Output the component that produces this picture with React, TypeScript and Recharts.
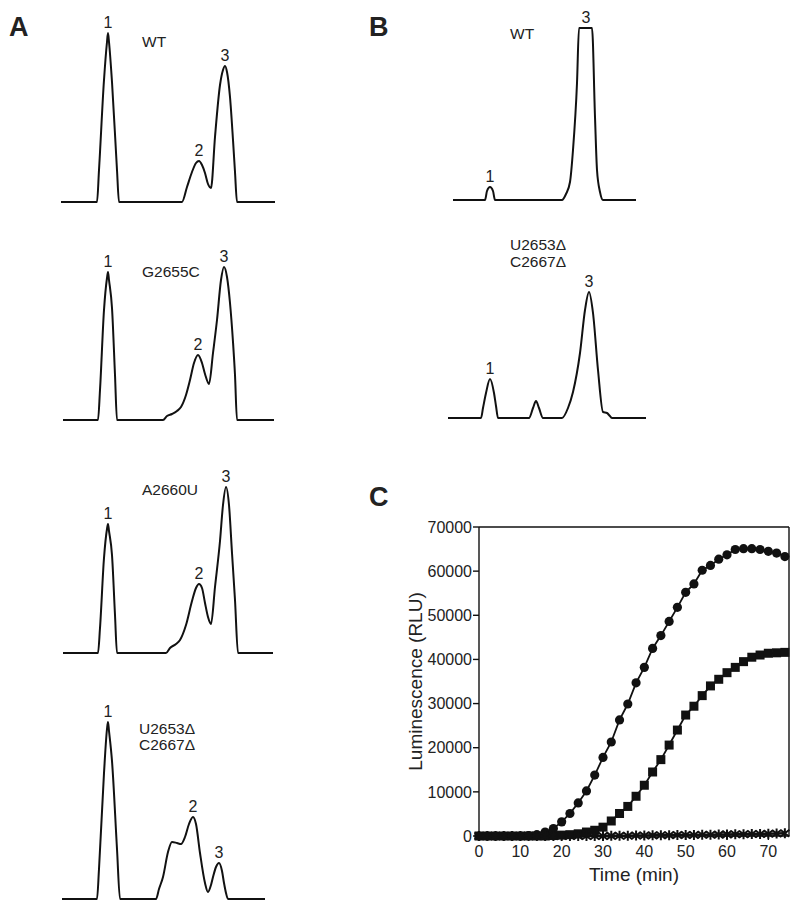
import { LineChart, Line, XAxis, YAxis, LabelList, ReferenceLine } from "recharts";

const FONT = '"Liberation Sans", Arial, sans-serif';
const INK = "#111";

// ---- Panel A traces (elution volume in mL, absorbance in mAU) ----
const aWtVol = [0.1, 3.7, 3.9, 4.4, 4.7, 4.8, 4.9, 5.2, 5.7, 5.9, 12.2, 12.7, 13.2, 13.6, 13.9, 14.2, 14.5, 14.8, 15.1, 15.5, 16.0, 16.3, 16.5, 16.7, 17.0, 17.3, 17.5, 17.7, 21.5];
const aWtAbs = [0, 0, 32, 122, 160, 169, 160, 120, 32, 0, 0, 15, 30, 39, 41, 37, 29, 18, 14, 65, 117, 132, 136, 130, 105, 62, 30, 0, 0];
const aWtPeaks: [number, string][] = [[4.8, "1"], [13.9, "2"], [16.5, "3"]];

const aG2655cVol = [0.3, 3.8, 4.0, 4.4, 4.7, 4.8, 4.9, 5.2, 5.5, 5.7, 10.3, 10.7, 11.2, 11.7, 12.1, 12.6, 13.0, 13.4, 13.8, 14.2, 14.5, 14.9, 15.3, 15.7, 16.1, 16.4, 16.7, 17.0, 17.3, 17.5, 17.7, 21.4];
const aG2655cAbs = [0, 0, 30, 110, 142, 148, 140, 112, 45, 0, 0, 4, 6, 9, 13, 25, 40, 57, 65, 57, 46, 36, 67, 100, 140, 153, 143, 117, 78, 45, 0, 0];
const aG2655cPeaks: [number, string][] = [[4.8, "1"], [13.8, "2"], [16.4, "3"]];

const aA2660uVol = [0.3, 3.8, 4.0, 4.4, 4.7, 4.8, 4.9, 5.2, 5.5, 5.7, 10.6, 11.0, 11.6, 12.0, 12.6, 13.2, 13.6, 13.9, 14.2, 14.5, 14.8, 15.1, 15.5, 16.0, 16.3, 16.6, 16.9, 17.2, 17.5, 17.8, 21.3];
const aA2660uAbs = [0, 0, 25, 95, 124, 129, 122, 98, 38, 0, 0, 5, 9, 13, 28, 52, 65, 69, 65, 50, 36, 29, 66, 112, 148, 166, 148, 100, 53, 0, 0];
const aA2660uPeaks: [number, string][] = [[4.8, "1"], [13.9, "2"], [16.6, "3"]];

const aDelVol = [0.2, 3.7, 3.9, 4.4, 4.7, 4.8, 4.9, 5.2, 5.7, 6.0, 9.6, 9.9, 10.3, 10.8, 11.2, 11.7, 12.1, 12.5, 12.9, 13.3, 13.6, 14.0, 14.5, 14.8, 15.1, 15.3, 15.6, 15.9, 16.2, 16.4, 16.6, 16.8, 20.5];
const aDelAbs = [0, 0, 30, 126, 170, 177, 168, 138, 50, 0, 0, 10, 22, 47, 57, 56, 55, 62, 75, 82, 75, 46, 16, 7, 14, 22, 32, 36, 28, 16, 6, 0, 0];
const aDelPeaks: [number, string][] = [[4.8, "1"], [13.3, "2"], [15.9, "3"]];

// ---- Panel B traces ----
const bWtVol = [0.7, 3.9, 4.1, 4.4, 4.7, 4.9, 11.6, 12.0, 12.4, 12.7, 13.1, 13.3, 14.0, 14.6, 14.9, 15.1, 15.4, 15.7, 19.0];
const bWtAbs = [0, 0, 9, 13, 9, 0, 0, 6, 18, 50, 117, 172, 172, 172, 83, 30, 8, 0, 0];
const bWtPeaks: [number, string][] = [[4.4, "1"], [14.0, "3"]];

const bDelVol = [0.2, 3.5, 3.7, 4.0, 4.4, 4.8, 5.0, 5.2, 8.3, 8.7, 9.0, 9.3, 9.7, 11.6, 12.2, 12.7, 13.4, 13.9, 14.3, 14.7, 15.2, 15.7, 16.1, 16.3, 16.6, 20.0];
const bDelAbs = [0, 0, 10, 25, 39, 25, 12, 0, 0, 10, 17, 10, 0, 0, 10, 26, 65, 108, 126, 105, 48, 6, 5, 3, 0, 0];
const bDelPeaks: [number, string][] = [[4.4, "1"], [14.3, "3"]];

// ---- Panel C luminescence ----
const minutes = [0, 2, 4, 6, 8, 10, 12, 14, 16, 18, 20, 22, 24, 26, 28, 30, 32, 34, 36, 38, 40, 42, 44, 46, 48, 50, 52, 54, 56, 58, 60, 62, 64, 66, 68, 70, 72, 74];
const circleLum = [0, 0, 0, 0, 0, 0, 100, 300, 900, 1700, 3200, 5100, 7500, 10200, 13800, 17800, 21300, 26300, 29900, 34700, 38200, 42500, 45400, 48600, 51800, 55200, 57100, 60200, 61300, 62700, 63700, 64900, 65100, 65100, 64900, 64500, 64100, 63300];
const squareLum = [0, 0, 0, 0, 0, 0, 0, 0, 0, 100, 200, 300, 500, 900, 1300, 2000, 3400, 5100, 6700, 9000, 11500, 14500, 17300, 20600, 24000, 27400, 29400, 31800, 34000, 35500, 37000, 38200, 39500, 40500, 41000, 41400, 41500, 41600];
const starLum = [0, 0, 0, 0, 0, 0, 0, 0, 0, 0, 0, 0, 0, 0, 0, 0, 30, 60, 70, 110, 120, 150, 170, 170, 210, 230, 240, 280, 300, 320, 360, 380, 410, 460, 470, 520, 560, 610];
const timeTicks = [0, 10, 20, 30, 40, 50, 60, 70];
const lumTicks = [0, 10000, 20000, 30000, 40000, 50000, 60000, 70000];

const lumData = minutes.map((t, i) => ({
  t,
  circle: circleLum[i],
  square: squareLum[i],
  star: starLum[i],
}));

const PX_PER_ML = 10;
const Y_MAX = 200;
const M = 4;

function toRows(vol: number[], abs: number[], peaks: [number, string][]) {
  return vol.map((v, i) => ({
    v,
    a: abs[i],
    peak: peaks.find((p) => p[0] === v)?.[1],
  }));
}

function Trace({
  vol,
  abs,
  peaks,
  x0,
  baseline,
  span,
}: {
  vol: number[];
  abs: number[];
  peaks: [number, string][];
  x0: number;
  baseline: number;
  span: number;
}) {
  return (
    <div style={{ position: "absolute", left: x0 - M, top: baseline - Y_MAX - M }}>
      <LineChart
        width={span * PX_PER_ML + 2 * M}
        height={Y_MAX + 2 * M}
        margin={{ top: M, right: M, bottom: M, left: M }}
        data={toRows(vol, abs, peaks)}
      >
        <XAxis type="number" dataKey="v" domain={[0, span]} hide />
        <YAxis type="number" domain={[0, Y_MAX]} hide />
        <Line
          dataKey="a"
          type="monotone"
          stroke={INK}
          strokeWidth={2}
          dot={false}
          isAnimationActive={false}
        >
          <LabelList
            dataKey="peak"
            position="top"
            offset={5}
            fill="#222"
            fontSize={16}
            fontFamily={FONT}
          />
        </Line>
      </LineChart>
    </div>
  );
}

function Text({ left, top, children, size = 15.5, bold = false, lh = 16 }: any) {
  return (
    <div
      style={{
        position: "absolute",
        left,
        top,
        fontSize: size,
        lineHeight: `${lh}px`,
        fontWeight: bold ? 700 : 400,
        color: "#222",
        whiteSpace: "nowrap",
      }}
    >
      {children}
    </div>
  );
}

const StarDot = (props: any) => {
  const { cx, cy, index } = props;
  if (cx == null || cy == null) return null;
  return (
    <path
      key={`star-${index}`}
      d={`M${cx},${cy - 5}L${cx},${cy + 5}M${cx - 4.5},${cy - 3.5}L${cx + 4.5},${cy + 3.5}M${cx - 4.5},${cy + 3.5}L${cx + 4.5},${cy - 3.5}`}
      stroke={INK}
      strokeWidth={2}
    />
  );
};

const SquareDot = (props: any) => {
  const { cx, cy, index } = props;
  if (cx == null || cy == null) return null;
  return <rect key={`sq-${index}`} x={cx - 4.5} y={cy - 4.5} width={9} height={9} fill={INK} />;
};

export default function App() {
  return (
    <div
      style={{
        position: "absolute",
        left: 0,
        top: 0,
        width: 800,
        height: 910,
        background: "#fff",
        fontFamily: FONT,
        overflow: "hidden",
      }}
    >
      <Text left={9} top={14} size={27} bold lh={27}>A</Text>
      <Text left={369} top={14} size={27} bold lh={27}>B</Text>
      <Text left={369} top={484} size={27} bold lh={27}>C</Text>

      {/* Panel A */}
      <Trace vol={aWtVol} abs={aWtAbs} peaks={aWtPeaks} x0={60} baseline={202} span={21.6} />
      <Text left={142} top={34}>WT</Text>
      <Trace vol={aG2655cVol} abs={aG2655cAbs} peaks={aG2655cPeaks} x0={60} baseline={420} span={21.6} />
      <Text left={142} top={264}>G2655C</Text>
      <Trace vol={aA2660uVol} abs={aA2660uAbs} peaks={aA2660uPeaks} x0={60} baseline={653} span={21.6} />
      <Text left={142} top={482}>A2660U</Text>
      <Trace vol={aDelVol} abs={aDelAbs} peaks={aDelPeaks} x0={60} baseline={899} span={21.6} />
      <Text left={139} top={721}>
        U2653Δ
        <br />
        C2667Δ
      </Text>

      {/* Panel B */}
      <Trace vol={bWtVol} abs={bWtAbs} peaks={bWtPeaks} x0={446} baseline={200} span={20.2} />
      <Text left={510} top={26}>WT</Text>
      <Trace vol={bDelVol} abs={bDelAbs} peaks={bDelPeaks} x0={446} baseline={418} span={20.2} />
      <Text left={510} top={237} lh={16.5}>
        U2653Δ
        <br />
        C2667Δ
      </Text>

      {/* Panel C */}
      <div style={{ position: "absolute", left: 380, top: 490 }}>
        <LineChart
          width={420}
          height={420}
          data={lumData}
          margin={{ top: 37, right: 11, bottom: 24, left: 19 }}
        >
          <XAxis
            type="number"
            dataKey="t"
            domain={[0, 75]}
            ticks={timeTicks}
            height={50}
            tickSize={4}
            tickMargin={6}
            stroke={INK}
            strokeWidth={1.4}
            tick={{ fill: "#222", fontSize: 16, fontFamily: FONT }}
            label={{
              value: "Time (min)",
              position: "insideBottom",
              offset: 5,
              fill: "#222",
              fontSize: 19,
              fontFamily: FONT,
            }}
          />
          <YAxis
            type="number"
            domain={[0, 70000]}
            ticks={lumTicks}
            width={80}
            tickSize={6}
            tickMargin={1}
            stroke={INK}
            strokeWidth={1.4}
            tick={{ fill: "#222", fontSize: 16, fontFamily: FONT }}
            label={{
              value: "Luminescence (RLU)",
              angle: -90,
              position: "insideLeft",
              offset: 16,
              fill: "#222",
              fontSize: 19,
              fontFamily: FONT,
              style: { textAnchor: "middle" },
            }}
          />
          <ReferenceLine y={70000} stroke={INK} strokeWidth={1.4} />
          <ReferenceLine x={75} stroke={INK} strokeWidth={1.4} />
          <Line
            dataKey="circle"
            stroke={INK}
            strokeWidth={1.8}
            dot={{ r: 4.6, fill: INK, stroke: INK, strokeWidth: 0 }}
            isAnimationActive={false}
          />
          <Line
            dataKey="square"
            stroke={INK}
            strokeWidth={1.8}
            dot={SquareDot}
            isAnimationActive={false}
          />
          <Line
            dataKey="star"
            stroke={INK}
            strokeWidth={2.5}
            dot={StarDot}
            isAnimationActive={false}
          />
        </LineChart>
      </div>
    </div>
  );
}
